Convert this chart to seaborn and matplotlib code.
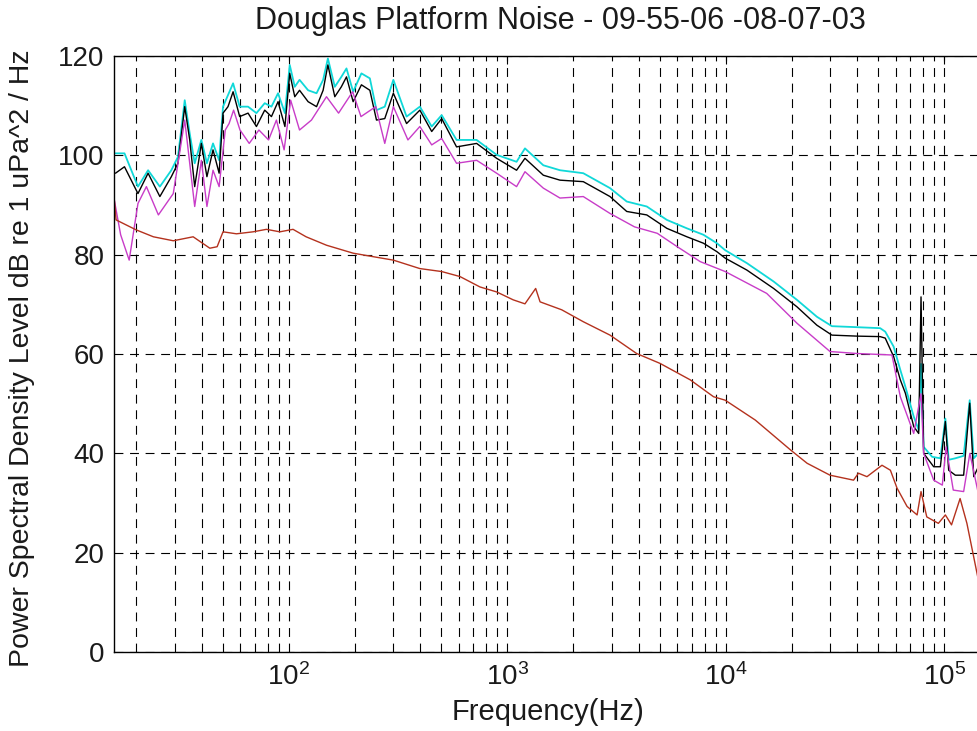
import numpy as np
import matplotlib
matplotlib.use("Agg")
import matplotlib.pyplot as plt
import seaborn as sns
from matplotlib.ticker import LogLocator, FixedLocator

# values (Hz, dB re 1 uPa^2/Hz)
freq_cyan = [16.1, 17.7, 20.4, 22.7, 25.7, 29.0, 31.1, 33.4, 35.2, 37.1, 39.8, 42.2, 45.0, 48.0,
             50.0, 55.6, 59.6, 65.1, 71.1, 77.6, 83.3, 89.3, 96, 101, 106.5, 112, 122.6, 134,
             143.6, 151, 162.4, 174, 183.7, 197, 215, 235, 252, 275, 301, 346, 398, 451, 501,
             586, 724, 894, 1103, 1205, 1462, 1743, 2228, 2953, 3522, 4351, 5375, 6640, 7910,
             9110, 9940, 12490, 16560, 21180, 26130, 30610, 39830, 50900, 53700, 58650, 62950,
             66400, 72500, 76400, 78300, 80500, 88000, 96000, 101200, 104800, 112400, 122700,
             130800, 136500, 143300]
psd_cyan = [100.4, 100.4, 93.7, 97.0, 93.7, 97.0, 99.7, 111.1, 104.4, 98.4, 103.1, 98.4, 102.4, 99.0,
            109.8, 114.5, 109.8, 109.8, 108.5, 110.5, 109.8, 112.5, 108.5, 118.2, 113.8, 115.2, 113.1, 112.5,
            115.2, 119.5, 113.8, 115.8, 117.5, 112.8, 116.5, 115.5, 109.1, 109.8, 115.2, 107.8, 109.8, 105.8, 108.1,
            103.1, 103.1, 100.1, 98.7, 101.4, 98.0, 97.0, 96.4, 93.4, 90.7, 89.7, 87.0, 85.3, 84.0,
            82.3, 80.9, 78.3, 74.6, 70.9, 67.5, 65.6, 65.4, 65.2, 64.5, 61.5, 56.8,
            53.4, 47.4, 44.7, 58.0, 41.3, 39.3, 39.0, 47.0, 38.7, 39.0, 39.5,
            50.7, 39.0, 40.0]

freq_black = [16.1, 17.7, 20.4, 22.7, 25.7, 29.0, 31.1, 33.4, 35.2, 37.1, 39.8, 42.2, 45.0, 48.0,
              50.0, 52.7, 55.6, 59.6, 65.1, 71.1, 77.6, 83.3, 89.3, 96, 101, 106.5, 112, 122.6, 134,
              143.6, 151, 162.4, 174, 183.7, 197, 215, 235, 252, 275, 301, 346, 398, 451, 501,
              586, 724, 894, 1103, 1205, 1462, 1743, 2228, 2953, 3522, 4351, 5375, 6640, 7910,
              9110, 9940, 12490, 16560, 21180, 26130, 30610, 39830, 50900, 53700, 58650, 62950,
              66400, 72500, 76400, 78300, 80500, 89500, 96000, 101200, 104800, 112400, 122700,
              130800, 136500, 143300]
psd_black = [96.4, 97.7, 92.3, 96.4, 91.7, 95.7, 98.4, 109.8, 103.1, 93.7, 102.4, 95.7, 101.1, 96.4,
             108.5, 109.8, 112.8, 107.8, 108.5, 105.8, 109.1, 107.8, 110.8, 105.8, 116.5, 111.8, 113.1, 110.8, 109.8,
             113.1, 118.2, 111.8, 113.8, 115.8, 110.8, 114.2, 113.1, 107.1, 107.4, 112.5, 106.4, 109.1, 104.8, 107.4,
             101.7, 102.4, 99.4, 97.0, 99.4, 96.0, 95.0, 94.7, 91.7, 88.7, 88.0, 85.3, 83.6, 82.3,
             80.6, 79.3, 76.9, 73.2, 69.5, 65.8, 63.8, 63.6, 63.5, 63.2, 59.5, 54.8,
             52.1, 45.4, 44.0, 71.5, 40.0, 37.3, 37.3, 46.4, 36.6, 35.6, 35.6,
             50.1, 35.3, 37.3]

freq_magenta = [15.9, 17.0, 18.6, 20.4, 22.3, 25.3, 29.6, 33.4, 37.1, 39.8, 42.2, 45.0, 48.0,
                51.2, 53.3, 55.9, 59.8, 65.9, 73.0, 80.8, 87.8, 95.2, 102, 112, 127, 148.8,
                169, 196, 214, 250, 275, 301, 351, 398, 451, 501, 586, 724, 894, 1103, 1205,
                1462, 1743, 2228, 2953, 3822, 4860, 6000, 7640, 9940, 15400, 21180, 30000,
                39830, 57650, 62950, 72500, 78300, 80500, 89500, 98000, 102000, 110000, 122700,
                131000, 143300]
psd_magenta = [91.0, 84.0, 78.9, 90.3, 93.7, 88.0, 92.3, 107.1, 89.7, 99.0, 89.7, 97.0, 93.7,
               105.1, 106.4, 109.1, 105.1, 102.4, 105.1, 103.1, 107.1, 101.1, 111.1, 105.1, 107.1, 111.8,
               108.5, 112.8, 107.8, 109.8, 102.4, 109.8, 103.1, 105.8, 102.1, 103.4, 98.4, 99.0, 96.4, 93.7, 96.7,
               93.4, 91.4, 91.7, 88.3, 85.6, 84.3, 81.6, 78.6, 76.6, 72.2, 66.2, 60.5,
               60.1, 59.8, 51.4, 44.0, 52.0, 40.0, 34.6, 33.6, 41.3, 32.6, 32.3,
               40.0, 31.9]

freq_red = [15.9, 16.2, 20.0, 24.0, 29.6, 36.5, 43.5, 47.0, 50.0, 57.6, 68.6, 79, 91, 104.6,
            120, 148.8, 197, 243, 301, 398, 501, 607, 750, 894, 1065, 1205, 1349, 1413, 1775,
            2228, 2953, 3909, 5007, 6875, 8790, 9940, 13650, 19770, 23570, 30000, 38450, 40500,
            44300, 51900, 56700, 60800, 67600, 75150, 78300, 83200, 94000, 101200, 108000,
            118200, 127000, 143300]
psd_red = [91.0, 87.0, 85.0, 83.6, 82.8, 83.6, 81.3, 81.6, 84.6, 84.2, 84.6, 85.1, 84.6, 85.1,
           83.6, 81.9, 80.3, 79.6, 78.9, 77.2, 76.6, 75.6, 73.5, 72.5, 70.9, 70.1, 73.2, 70.5, 68.9,
           66.5, 63.8, 60.1, 58.1, 54.8, 51.4, 50.7, 46.7, 40.7, 38.0, 35.6, 34.6, 36.0,
           35.3, 37.6, 36.6, 33.0, 29.3, 27.6, 32.3, 27.2, 25.9, 27.6, 25.6,
           30.9, 25.9, 14.5]

sns.set_style("white")
plt.rcParams['font.family'] = ['Liberation Sans', 'DejaVu Sans']
plt.rcParams['text.color'] = '#1a1a1a'

fig = plt.figure(figsize=(9.78, 7.31), dpi=100)
ax = fig.add_axes([114 / 978, 79 / 731, 896 / 978, 596 / 731])

sns.lineplot(x=freq_cyan, y=psd_cyan, ax=ax, color='#10d8d8', lw=1.3, estimator=None)
sns.lineplot(x=freq_black, y=psd_black, ax=ax, color='black', lw=1.0, estimator=None)
sns.lineplot(x=freq_magenta, y=psd_magenta, ax=ax, color='#c83cc8', lw=1.0, estimator=None)
sns.lineplot(x=freq_red, y=psd_red, ax=ax, color='#b4321e', lw=1.0, estimator=None)

ax.set_xscale('log')
ax.set_xlim(10 ** 1.2, 2e5)
ax.set_ylim(0, 120)
ax.yaxis.set_major_locator(FixedLocator([0, 20, 40, 60, 80, 100, 120]))
ax.xaxis.set_major_locator(LogLocator(base=10))
ax.xaxis.set_minor_locator(LogLocator(base=10, subs=np.arange(2, 10)))

dash = (0, (8, 6))
ax.grid(True, which='both', axis='x', color='black', lw=0.8, linestyle=dash)
ax.grid(True, which='major', axis='y', color='black', lw=0.8, linestyle=dash)

ax.tick_params(axis='both', which='both', direction='in', top=True, right=True,
               labelsize=20, color='black', labelcolor='#1a1a1a')
ax.tick_params(axis='x', which='major', length=6, pad=8)
ax.tick_params(axis='x', which='minor', length=3)
ax.tick_params(axis='y', which='major', length=6, pad=7)
for s in ax.spines.values():
    s.set_color('black')
    s.set_linewidth(1.0)

ax.set_xlabel('')
ax.set_ylabel('')
fig.text(22 / 978, 1 - 358 / 731, 'Power Spectral Density Level dB re 1 uPa^2 / Hz',
         rotation=90, ha='center', va='center', fontsize=20.5)
fig.text(548 / 978, 1 - 712 / 731, 'Frequency(Hz)', ha='center', va='center', fontsize=21)
fig.text(560 / 978, 1 - 21 / 731, 'Douglas Platform Noise - 09-55-06 -08-07-03',
         ha='center', va='center', fontsize=22)

fig.savefig('out.png', dpi=100)
